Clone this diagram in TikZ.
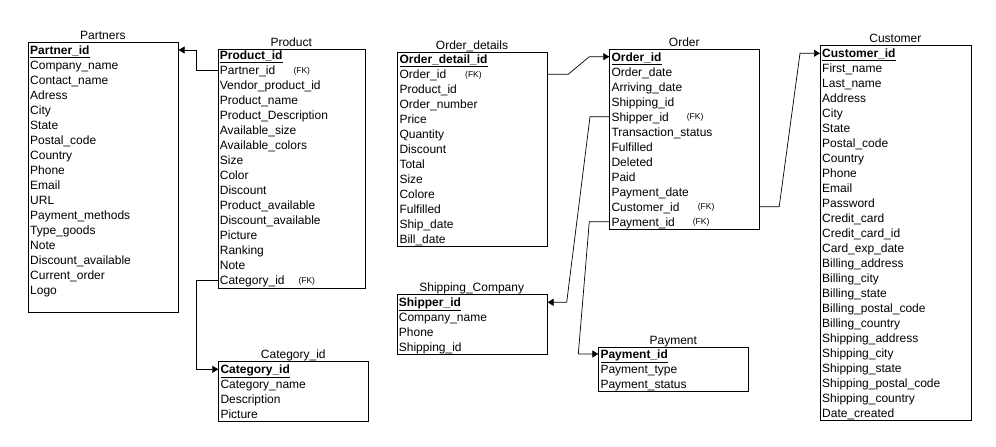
\documentclass[tikz,border=0pt]{standalone}
\usepackage{fontspec}
\setmainfont{Liberation Sans}
\usetikzlibrary{arrows.meta}
\newcommand{\pkey}[1]{\textbf{\underline{#1}}}
\newcommand{\ertab}[8]{%
  \node[tbox, minimum width={#4-#2}, minimum height={#5-#3}, anchor=north west] (#1) at (#2,#3) {};
  \node[ttl] (#1-title) at ({(#2+#4)/2},{#3-6.7}) {#6};
  \foreach \r [count=\i] in {#8} {\node[rowtxt] (#1-\i) at ({#2+2},{#7+15*(\i-1)}) {\r};}
}
\begin{document}
\begin{tikzpicture}[x=1pt,y=-1pt,
  tbox/.style={draw=black, line width=0.9pt, inner sep=0pt, fill=white},
  ttl/.style={font=\fontsize{12}{14}\selectfont, inner sep=0pt, text height=8.6pt, text depth=0pt},
  rowtxt/.style={font=\fontsize{12}{14}\selectfont, anchor=west, inner sep=0pt, text height=8.6pt, text depth=0pt},
  fk/.style={font=\fontsize{8.5}{10}\selectfont, anchor=west, inner sep=0pt, text height=6.1pt, text depth=0pt},
  conn/.style={draw=black, line width=0.7pt, -{Triangle[length=6pt,width=7pt]}}]
\useasboundingbox (0,0) rectangle (996,447);

\ertab{partners}{28}{42.3}{177.7}{312}{Partners}{50}{\pkey{Partner\_id},Company\_name,Contact\_name,Adress,City,State,Postal\_code,Country,Phone,Email,URL,Payment\_methods,Type\_goods,Note,Discount\_available,Current\_order,Logo}

\ertab{product}{217.7}{49}{364.7}{288.3}{Product}{55.3}{\pkey{Product\_id},Partner\_id,Vendor\_product\_id,Product\_name,Product\_Description,Available\_size,Available\_colors,Size,Color,Discount,Product\_available,Discount\_available,Picture,Ranking,Note,Category\_id}

\ertab{category}{218.3}{361.3}{368.3}{421}{Category\_id}{369.3}{\pkey{Category\_id},Category\_name,Description,Picture}

\ertab{od}{397.3}{52}{546.7}{246}{Order\_details}{59.3}{\pkey{Order\_detail\_id},Order\_id,Product\_id,Order\_number,Price,Quantity,Discount,Total,Size,Colore,Fulfilled,Ship\_date,Bill\_date}

\ertab{ship}{396.7}{294.3}{546.7}{354}{Shipping\_Company}{302.3}{\pkey{Shipper\_id},Company\_name,Phone,Shipping\_id}

\ertab{order}{609.3}{49}{759.3}{229}{Order}{56.7}{\pkey{Order\_id},Order\_date,Arriving\_date,Shipping\_id,Shipper\_id,Transaction\_status,Fulfilled,Deleted,Paid,Payment\_date,Customer\_id,Payment\_id}

\ertab{pay}{598.3}{346.7}{748.3}{391}{Payment}{354}{\pkey{Payment\_id},Payment\_type,Payment\_status}

\ertab{cust}{820}{45}{970.7}{420}{Customer}{53.3}{\pkey{Customer\_id},First\_name,Last\_name,Address,City,State,Postal\_code,Country,Phone,Email,Password,Credit\_card,Credit\_card\_id,Card\_exp\_date,Billing\_address,Billing\_city,Billing\_state,Billing\_postal\_code,Billing\_country,Shipping\_address,Shipping\_city,Shipping\_state,Shipping\_postal\_code,Shipping\_country,Date\_created}

% FK labels
\node[fk] (fk1) at (293.3,70.3) {(FK)};
\node[fk] (fk2) at (298.3,280.3) {(FK)};
\node[fk] (fk3) at (465,74.3) {(FK)};
\node[fk] (fk4) at (686.7,116.7) {(FK)};
\node[fk] (fk5) at (697.7,206.7) {(FK)};
\node[fk] (fk6) at (692.7,221.7) {(FK)};

% connectors
\draw[conn] (product.west |- product-2) -- ++(-21.3,0) |- (partners.east |- partners-1);
\draw[conn] (product.west |- product-16) -- ++(-21,0) |- (category.west |- category-1);
\draw[conn] (od.east |- od-2) -- ++(20.6,0) -- (589.3,56.7) -- (order.west |- order-1);
\draw[conn] (order.east |- order-11) -- ++(19,0) -- (800,53.3) -- (cust.west |- cust-1);
\draw[conn] (order.west |- order-5) -- ++(-19.3,0) -- (566.7,302.3) -- (ship.east |- ship-1);
\draw[conn] (order.west |- order-12) -- ++(-20,0) -- (578.3,354) -- (pay.west |- pay-1);
\end{tikzpicture}
\end{document}
